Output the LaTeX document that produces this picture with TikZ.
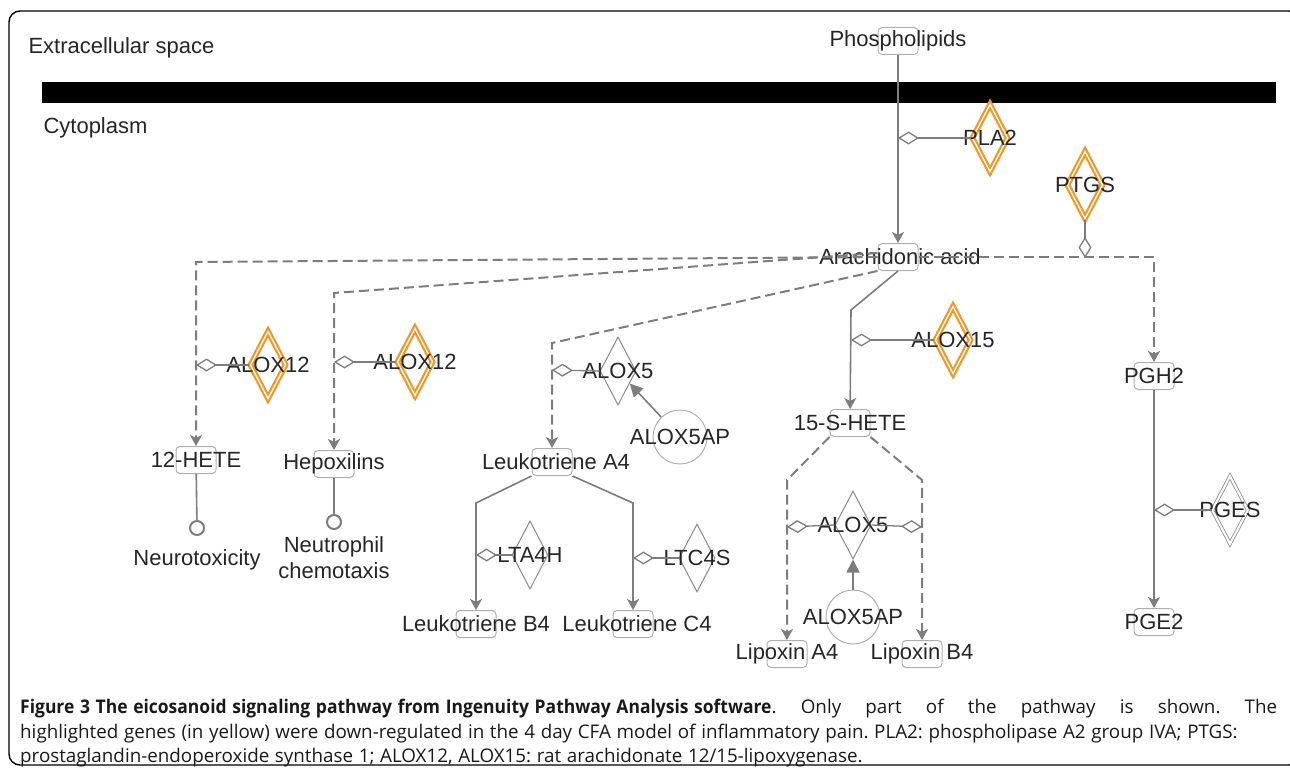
\documentclass[tikz,border=0pt]{standalone}
\usepackage{fontspec}
\setmainfont{Liberation Sans}
\newfontfamily\capfont[BoldFeatures={FakeStretch=0.93}]{Open Sans}
\usetikzlibrary{arrows.meta,shapes.geometric}

\definecolor{lnGray}{RGB}{125,125,125}
\definecolor{boxGray}{RGB}{175,175,175}
\definecolor{hiOrange}{RGB}{247,147,30}

\newsavebox\capbox

\tikzset{
	chem/.style={draw=boxGray, rounded corners=4pt, minimum width=40pt, minimum height=27pt, inner sep=0pt, line width=1pt},
	enz/.style={diamond, draw=lnGray!90, minimum width=36pt, minimum height=68pt, inner sep=0pt, line width=1pt},
	hienz/.style={enz, draw=hiOrange, line width=2.1pt, double=white, double distance=1.4pt},
	grpenz/.style={enz, draw=lnGray!80, line width=0.9pt, double=white, double distance=2pt},
	cplx/.style={circle, draw=boxGray, minimum size=54pt, inner sep=0pt, line width=1pt},
	func/.style={circle, draw=lnGray, minimum size=14pt, inner sep=0pt, line width=2pt},
	rxn/.style={draw=lnGray, line width=1.6pt, -{Stealth[length=11pt, width=12pt, inset=3pt]}},
	ind/.style={draw=lnGray, line width=2pt, dash pattern=on 10pt off 5pt, -{Stealth[length=11pt, width=12pt, inset=3pt]}},
	cat/.style={draw=lnGray, line width=1.3pt, -{Diamond[open, length=21pt, width=13pt]}},
	act/.style={draw=lnGray, line width=1.6pt, -{Triangle[length=13pt, width=13pt]}},
}

\begin{document}
\begin{tikzpicture}[x=1pt, y=-1pt, font=\fontsize{22}{26}\selectfont, text=black!85]
	\useasboundingbox (0,0) rectangle (1290,770);
	\draw[line width=1.4pt, rounded corners=11pt] (9,11) rectangle (1300,765);

	% compartments
	\node[anchor=west] (extra) at (25,48) {Extracellular space};
	\node[anchor=west] (cyto) at (40,128) {Cytoplasm};
	\fill (42,82) rectangle (1276,103);

	% molecules
	\node[chem, label=center:Phospholipids] (phos) at (898,41) {};
	\node[chem, label={[xshift=2pt]center:Arachidonic acid}] (arach) at (898,257) {};
	\node[chem, label=center:12-HETE] (hete12) at (196,460) {};
	\node[chem, label=center:Hepoxilins] (hepox) at (334,464) {};
	\node[chem, label={[xshift=4pt]center:Leukotriene A4}] (lta4) at (552,462) {};
	\node[chem, label=center:Leukotriene B4] (ltb4) at (476,624) {};
	\node[chem, label={[xshift=4pt]center:Leukotriene C4}] (ltc4) at (633,624) {};
	\node[chem, label=center:15-S-HETE] (hete15) at (850,423) {};
	\node[chem, label=center:Lipoxin A4] (lxa4) at (787,654) {};
	\node[chem, label=center:Lipoxin B4] (lxb4) at (922,654) {};
	\node[chem, label=center:PGH2] (pgh2) at (1154,376) {};
	\node[chem, label=center:PGE2] (pge2) at (1154,622) {};

	% enzymes
	\node[hienz, label=center:PLA2] (pla2) at (990,138) {};
	\node[hienz, label=center:PTGS] (ptgs) at (1085,185) {};
	\node[hienz, label=center:ALOX12] (alox12a) at (268,365) {};
	\node[hienz, label=center:ALOX12] (alox12b) at (415,362) {};
	\node[hienz, label=center:ALOX15] (alox15) at (953,340) {};
	\node[enz, label=center:ALOX5] (alox5a) at (618,371) {};
	\node[enz, label=center:ALOX5] (alox5b) at (853,525) {};
	\node[enz, label=center:LTA4H] (lta4h) at (530,555) {};
	\node[enz, label=center:LTC4S] (ltc4s) at (697,558) {};
	\node[grpenz, label=center:PGES] (pges) at (1230,510) {};
	\node[cplx, label=center:ALOX5AP] (ap1) at (680,437) {};
	\node[cplx, label=center:ALOX5AP] (ap2) at (853,617) {};

	% functions
	\node[func, label={[label distance=10pt]below:Neurotoxicity}] (neuro) at (197,528) {};
	\node[func, label={[label distance=3pt, align=center]below:Neutrophil\\chemotaxis}] (neutro) at (334,522) {};

	% reactions
	\draw[rxn] (phos) -- (arach);
	\draw[ind] (arach.east) -| (pgh2);
	\draw[ind] (arach.west) -- (196,262) -- (hete12);
	\draw[ind] ([yshift=4pt]arach.west) -- (334,293) -- (hepox);
	\draw[ind] (arach.south west) -- (552,343) -- (lta4);
	\draw[rxn] (arach.south) -- (851,310) -- (hete15);
	\draw[rxn] (lta4.south west) -- (476,503) -- (ltb4);
	\draw[rxn] (lta4.south east) -- (633,503) -- (ltc4);
	\draw[ind] (hete15.south west) -- (787,480) -- (lxa4);
	\draw[ind] (hete15.south east) -- (922,480) -- (lxb4);
	\draw[rxn] (pgh2) -- (pge2);
	\draw[line width=1.6pt, draw=lnGray] (hete12) -- (neuro);
	\draw[line width=1.6pt, draw=lnGray] (hepox) -- (neutro);

	% catalysis
	\coordinate (c1) at (898,138);
	\coordinate (c2) at (1085,258);
	\coordinate (c3) at (196,365);
	\coordinate (c4) at (334,362);
	\coordinate (c5) at (552,370);
	\coordinate (c6) at (851,340);
	\coordinate (c7) at (1154,510);
	\coordinate (c8) at (476,555);
	\coordinate (c9) at (633,558);
	\coordinate (c10) at (787,527);
	\coordinate (c11) at (922,527);
	\draw[cat] (pla2.west) -- (c1);
	\draw[cat] (ptgs.south) -- (c2);
	\draw[cat] (alox12a.west) -- (c3);
	\draw[cat] (alox12b.west) -- (c4);
	\draw[cat] (alox5a.west) -- (c5);
	\draw[cat] (alox15.west) -- (c6);
	\draw[cat] (pges.west) -- (c7);
	\draw[cat] (lta4h.west) -- (c8);
	\draw[cat] (ltc4s.west) -- (c9);
	\draw[cat] (alox5b.west) -- (c10);
	\draw[cat] (alox5b.east) -- (c11);
	\draw[act] (ap1) -- (alox5a);
	\draw[act] (ap2) -- (alox5b);

	% caption
	\node[anchor=north west, text width=1257pt, align=left, inner sep=0pt, text=black!90,
		font=\capfont\fontsize{18.8}{24.5}\selectfont] (cap) at (20,699)
		{\frenchspacing\spaceskip=0.3em\xspaceskip=0.3em\relax
		\sbox\capbox{\textbf{Figure 3 The eicosanoid signaling pathway from Ingenuity Pathway Analysis software}}%
		\usebox\capbox\makebox[\dimexpr1257pt-\wd\capbox][s]{\spaceskip=0.3em plus 1fil\xspaceskip=0.3em plus 1fil\relax. Only part of the pathway is shown. The}\\
		highlighted genes (in yellow) were down-regulated in the 4 day CFA model of inflammatory pain. PLA2: phospholipase A2 group IVA; PTGS:\\
		prostaglandin-endoperoxide synthase 1; ALOX12, ALOX15: rat arachidonate 12/15-lipoxygenase.};
\end{tikzpicture}
\end{document}
